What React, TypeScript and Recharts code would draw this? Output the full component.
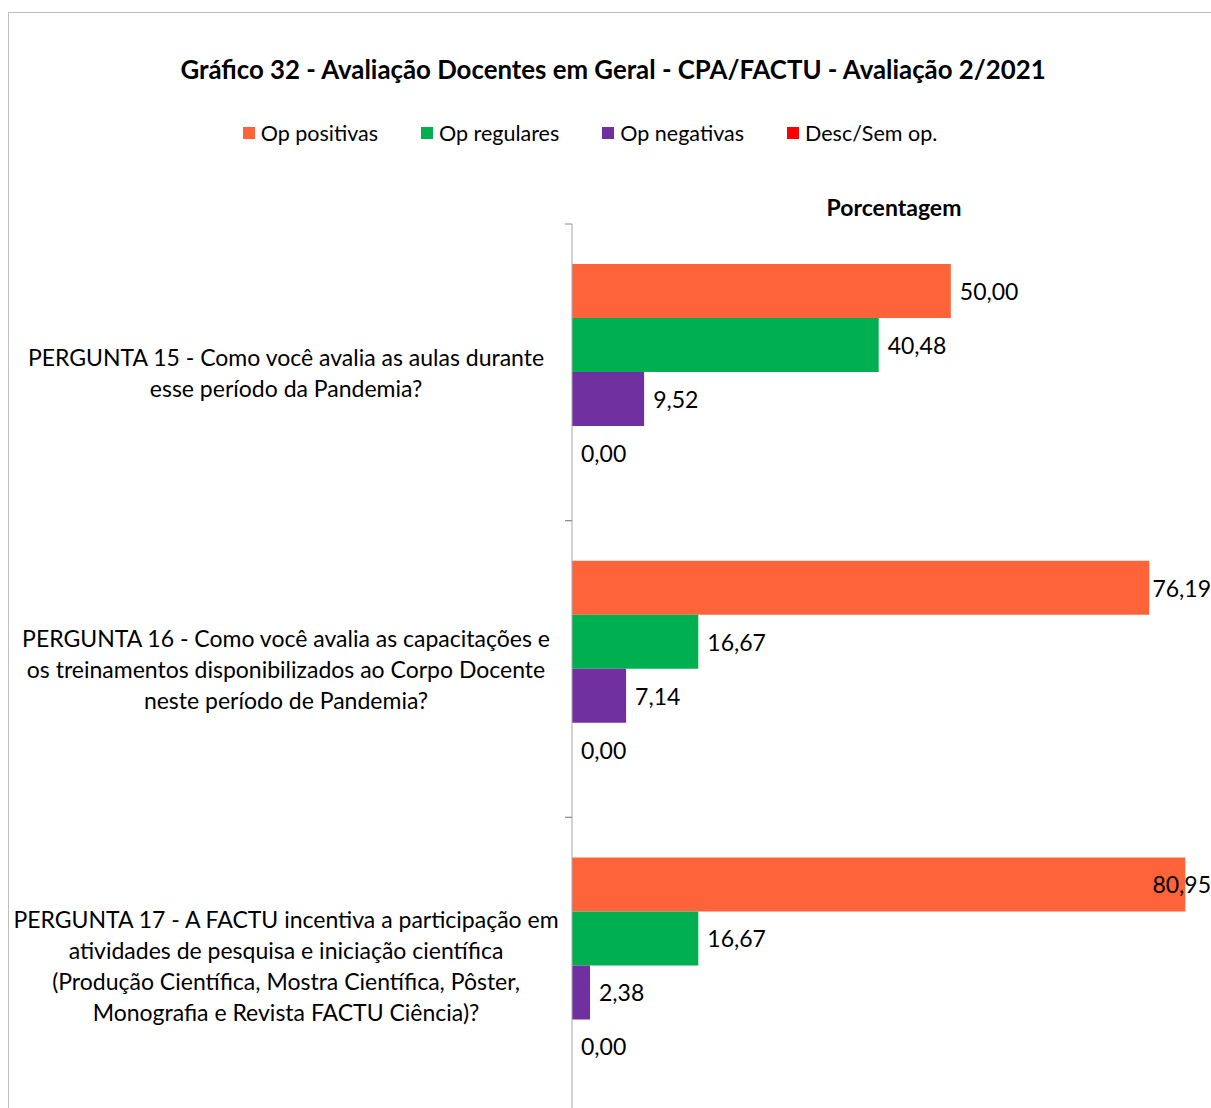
import React from 'react';
import { BarChart, Bar, XAxis, YAxis, LabelList, Rectangle } from 'recharts';

const categories = [
  'PERGUNTA 15 - Como você avalia as aulas durante\nesse período da Pandemia?',
  'PERGUNTA 16 - Como você avalia as capacitações e\nos treinamentos disponibilizados ao Corpo Docente\nneste período de Pandemia?',
  'PERGUNTA 17 - A FACTU incentiva a participação em\natividades de pesquisa e iniciação científica\n(Produção Científica, Mostra Científica, Pôster,\nMonografia e Revista FACTU Ciência)?',
];
const opPositivas = [50.0, 76.19, 80.95];
const opRegulares = [40.48, 16.67, 16.67];
const opNegativas = [9.52, 7.14, 2.38];
const descSemOp = [0.0, 0.0, 0.0];

const seriesNames = ['Op positivas', 'Op regulares', 'Op negativas', 'Desc/Sem op.'];
const seriesKeys = ['pos', 'reg', 'neg', 'desc'];
const seriesColors = ['#FF633A', '#00B050', '#7030A0', '#FF0000'];

const title = 'Gráfico 32 - Avaliação Docentes em Geral - CPA/FACTU - Avaliação 2/2021';
const axisTitle = 'Porcentagem';

const data = categories.map((name, i) => ({
  name,
  pos: opPositivas[i],
  reg: opRegulares[i],
  neg: opNegativas[i],
  desc: descSemOp[i],
}));

const FONT = 'Lato, "Open Sans", sans-serif';
const CHART_W = 1260;
const CHART_H = 1150;
const MARGIN = { top: 184, right: 44, bottom: 36, left: 0 };
const Y_W = 572;
const X_H = 40;
const PLOT_H = CHART_H - MARGIN.top - MARGIN.bottom - X_H;
const BAND = PLOT_H / categories.length;
const LABEL_CX = 286;
const LINE_H = 31;
const CLIP_RIGHT = 1211;
const MIN_PT = 0.5;

const fmt = (v: number) => v.toFixed(2).replace('.', ',');

const CategoryTick = (props: any) => {
  const { y, payload } = props;
  const lines = String(payload.value).split('\n');
  const first = y - ((lines.length - 1) * LINE_H) / 2;
  const top = y - BAND / 2;
  const bottom = y + BAND / 2;
  return (
    <g>
      {lines.map((ln, i) => (
        <text
          key={i}
          x={LABEL_CX}
          y={first + i * LINE_H}
          textAnchor="middle"
          dominantBaseline="central"
          fontFamily={FONT}
          fontSize={23}
          fill="#000"
        >
          {ln}
        </text>
      ))}
      <line x1={Y_W - 7} x2={Y_W} y1={top} y2={top} stroke="#8c8c8c" strokeWidth={1} />
      <line x1={Y_W - 7} x2={Y_W} y1={bottom} y2={bottom} stroke="#8c8c8c" strokeWidth={1} />
    </g>
  );
};

const ValueLabel = (props: any) => {
  const { x, y, width, height, value } = props;
  const v = Number(value);
  const txt = fmt(v);
  const estW = txt.length * 11.8;
  const barW = v === 0 ? 0 : width;
  let tx = x + barW + 9;
  let anchor: 'start' | 'end' = 'start';
  if (tx + estW > CLIP_RIGHT) {
    tx = CLIP_RIGHT;
    anchor = 'end';
  }
  return (
    <text
      x={tx}
      y={y + height / 2}
      textAnchor={anchor}
      dominantBaseline="central"
      fontFamily={FONT}
      fontSize={23}
      fill="#000"
    >
      {txt}
    </text>
  );
};

const BarShape = (props: any) => {
  if (!props.value || Number(props.value) === 0) return <g />;
  return <Rectangle {...props} />;
};

const AxisTitle = (props: any) => {
  const vb = props.viewBox || {};
  return (
    <text
      x={vb.x + vb.width / 2}
      y={207}
      textAnchor="middle"
      dominantBaseline="central"
      fontFamily={FONT}
      fontSize={23}
      fontWeight="bold"
      fill="#000"
    >
      {axisTitle}
    </text>
  );
};

export default function App() {
  return (
    <div
      style={{
        position: 'fixed',
        left: 0,
        top: 0,
        width: 1211,
        height: 1108,
        overflow: 'hidden',
        background: '#fff',
      }}
    >
      <div
        style={{
          position: 'absolute',
          left: 8,
          top: 12,
          width: 1300,
          height: 1200,
          border: '1px solid #bfbfbf',
          boxSizing: 'border-box',
        }}
      />
      <div
        style={{
          position: 'absolute',
          left: 0,
          top: 52,
          width: 1226,
          textAlign: 'center',
          fontFamily: FONT,
          fontSize: 25.8,
          fontWeight: 'bold',
          color: '#000',
          lineHeight: '34px',
        }}
      >
        {title}
      </div>
      <div
        style={{
          position: 'absolute',
          left: 0,
          top: 118,
          width: 1180,
          display: 'flex',
          justifyContent: 'center',
          gap: 43,
          fontFamily: FONT,
          fontSize: 21.5,
          color: '#000',
          lineHeight: '30px',
        }}
      >
        {seriesNames.map((n, i) => (
          <div key={n} style={{ display: 'flex', alignItems: 'center' }}>
            <span
              style={{
                display: 'inline-block',
                width: 12,
                height: 12,
                background: seriesColors[i],
                marginRight: 6,
              }}
            />
            <span>{n}</span>
          </div>
        ))}
      </div>
      <div style={{ position: 'absolute', left: 0, top: 0 }}>
        <BarChart
          width={CHART_W}
          height={CHART_H}
          data={data}
          layout="vertical"
          margin={MARGIN}
          barCategoryGap="13.5%"
          barGap={0}
        >
          <XAxis
            type="number"
            orientation="top"
            domain={[0, 85]}
            height={X_H}
            axisLine={false}
            tickLine={false}
            tick={false}
            label={<AxisTitle />}
          />
          <YAxis
            type="category"
            dataKey="name"
            width={Y_W}
            axisLine={{ stroke: '#a6a6a6', strokeWidth: 1 }}
            tickLine={false}
            tick={<CategoryTick />}
            interval={0}
          />
          {seriesKeys.map((k, i) => (
            <Bar
              key={k}
              dataKey={k}
              name={seriesNames[i]}
              fill={seriesColors[i]}
              minPointSize={MIN_PT}
              shape={<BarShape />}
              isAnimationActive={false}
            >
              <LabelList dataKey={k} content={<ValueLabel />} />
            </Bar>
          ))}
        </BarChart>
      </div>
    </div>
  );
}
